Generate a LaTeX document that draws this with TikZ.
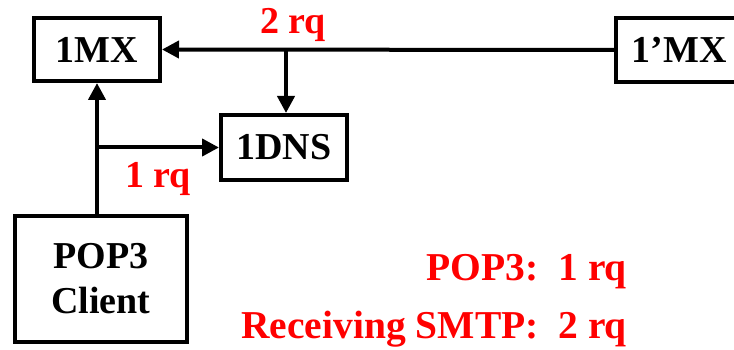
\documentclass[tikz,border=0pt]{standalone}
\usepackage{fontspec}
\newfontfamily\tnr{Liberation Serif}
\usetikzlibrary{arrows.meta}
\definecolor{lblred}{RGB}{255,0,0}
\tikzset{
  box/.style={draw=black, line width=4pt, rectangle, inner sep=0pt,
    font=\tnr\bfseries\fontsize{38}{45}\selectfont, align=center},
  conn/.style={line width=4pt, draw=black},
  arr/.style={conn, -{Triangle[length=17pt,width=17pt]}},
  lbl/.style={text=lblred, inner sep=0pt, font=\tnr\bfseries\fontsize{38}{45}\selectfont},
  sumlbl/.style={lbl, font=\tnr\bfseries\fontsize{39.5}{46}\selectfont}
}
\begin{document}
\begin{tikzpicture}[x=1pt,y=-1pt]
\clip (0,0) rectangle (734,350);
\fill[white] (0,0) rectangle (734,350);
\node[box, minimum width=126pt, minimum height=63pt] (mx) at (97,49.5) {1MX};
\node[box, minimum width=126pt, minimum height=64pt] (mxp) at (679,50) {1’MX};
\node[box, minimum width=126pt, minimum height=65pt] (dns) at (284,147.5) {1DNS};
\node[box, minimum width=172pt, minimum height=126pt] (pop) at (101,279) {POP3\\Client};
\coordinate (br) at (286,49);
\coordinate (j) at (97,147.5);
\draw[arr] (mxp.west) -- (mx.east);
\draw[arr] (br) -- (br |- dns.north);
\draw[arr] (mx.south |- pop.north) -- (mx.south);
\draw[arr] (j) -- (dns.west);
\node[lbl, anchor=base] (l2) at (293,34) {2 rq};
\node[lbl, anchor=base] (l1) at (158,187) {1 rq};
\node[sumlbl, anchor=base east] (s1) at (627,280) {POP3:\ \ 1 rq};
\node[sumlbl, anchor=base east] (s2) at (627,338) {Receiving SMTP:\ \ 2 rq};
\end{tikzpicture}
\end{document}
